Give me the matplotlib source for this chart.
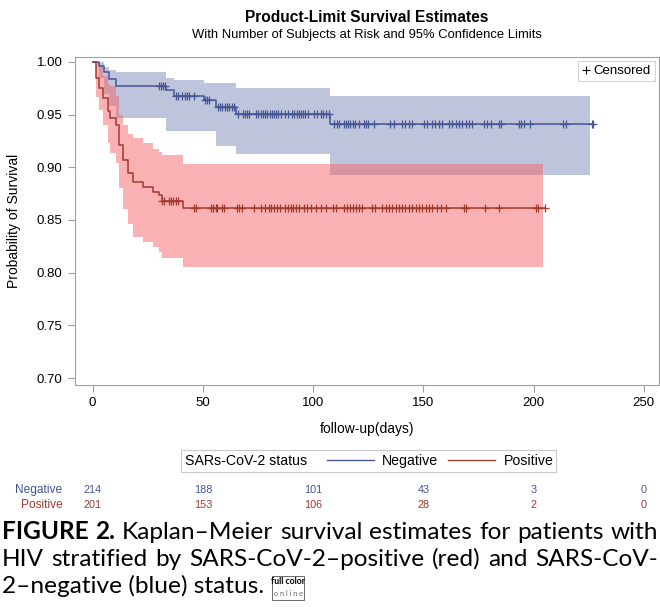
import numpy as np
import matplotlib
matplotlib.use("Agg")
from matplotlib import pyplot as plt
from matplotlib.lines import Line2D
from matplotlib.patches import Rectangle

plt.rcParams['font.family'] = ['Liberation Sans', 'DejaVu Sans']

# Kaplan-Meier steps (days, survival) and 95% limits
neg_t = [0, 2.7, 5, 7.2, 10.5, 33.1, 36.8, 50.4, 55.9, 65, 107.7]
neg_s = [1.0, 0.996, 0.990, 0.984, 0.977, 0.973, 0.968, 0.964, 0.957, 0.951, 0.941]
neg_up = [1.0, 1.0, 0.995, 0.992, 0.990, 0.985, 0.983, 0.980, 0.980, 0.975, 0.968]
neg_lo = [1.0, 0.985, 0.970, 0.958, 0.947, 0.934, 0.934, 0.934, 0.920, 0.913, 0.893]
neg_end = 227
neg_band_end = 225.5

pos_t = [0, 1.3, 2.7, 4.6, 6.8, 8.1, 10.5, 11.8, 13.7, 16, 18.2, 22.7, 27.2, 30, 31.3, 41.2]
pos_s = [1.0, 0.985, 0.975, 0.966, 0.953, 0.947, 0.940, 0.921, 0.907, 0.895, 0.886,
         0.881, 0.877, 0.874, 0.868, 0.861]
pos_up = [1.0, 1.0, 0.995, 0.987, 0.979, 0.977, 0.968, 0.950, 0.940, 0.932, 0.928,
          0.923, 0.917, 0.915, 0.912, 0.903]
pos_lo = [1.0, 0.967, 0.954, 0.940, 0.923, 0.914, 0.904, 0.880, 0.860, 0.846, 0.834,
          0.829, 0.824, 0.820, 0.814, 0.805]
pos_end = 205.4
pos_band_end = 204.2

# censored times
neg_cens = [30, 31, 32, 32.8, 37.6, 38.6, 40.6, 41.7, 42.7, 43.7, 46.2, 50.8, 51.8, 52.8,
            56.9, 57.9, 58.9, 59.9, 61, 62, 63, 64, 66, 68.1, 69.1, 70.1, 71.1, 74.2,
            75.2, 76.2, 77.2, 78.2, 79.2, 80.3, 81.3, 82.3, 83.3, 84.3, 85.3, 87.4, 88.4,
            90.4, 91.4, 92.5, 93.5, 94.5, 95.5, 96.5, 97.5, 100.6, 101.6, 103.6, 104.6,
            105.7, 107.2, 109.7, 110.7, 111.8, 113.8, 114.8, 115.8, 116.8, 117.9, 118.9,
            120.9, 122.9, 124, 125, 127.6, 135.1, 136.7, 140.5, 141.9, 143.5, 145, 150.3,
            151.8, 154, 155.5, 157.1, 158.6, 161.6, 163.1, 164.6, 166.1, 167.6, 169.2,
            170.7, 172.2, 177.5, 179, 180.5, 184.3, 185.3, 193.3, 194.5, 195.7, 198.3,
            213.5, 214.5, 226.6]
pos_cens = [31.5, 32.5, 34.5, 35.6, 36.6, 37.6, 38.6, 45.9, 46.7, 53.5, 54.8, 55.9, 56.6,
            58.8, 59.8, 65.6, 66.6, 67.9, 73.2, 76.2, 78.4, 80, 81.1, 82.3, 83.4, 84.8,
            87.1, 88.6, 89.8, 91, 92.3, 93.6, 96.1, 97.3, 98.9, 101.1, 103.6, 106, 109,
            110.2, 114, 115.5, 116.7, 118, 119.3, 120.8, 122.3, 126.8, 128.3, 131.4, 132.9,
            134.4, 135.9, 137.5, 139, 140.5, 141.9, 143.5, 145, 146.5, 148, 149.6, 151.1,
            152.5, 154, 156.4, 157.9, 160.1, 168.5, 169.2, 178.2, 184.3, 201, 202]

risk_times = [0, 50, 100, 150, 200, 250]
risk_neg = [214, 188, 101, 43, 3, 0]
risk_pos = [201, 153, 106, 28, 2, 0]

blue = '#445694'
red = '#A23A2E'

W, H = 660, 607
fig = plt.figure(figsize=(W / 100, H / 100), dpi=100)
ax = fig.add_axes([75 / W, 1 - 385 / H, 584 / W, 328 / H])


def step_xy(t, v, end):
    return list(t) + [end], list(v) + [v[-1]]


def cens_y(t, s, times):
    idx = np.searchsorted(t, times, side='right') - 1
    return np.array(s)[idx]


# bands
x, y1 = step_xy(neg_t, neg_up, neg_band_end)
_, y2 = step_xy(neg_t, neg_lo, neg_band_end)
ax.fill_between(x, y1, y2, step='post', color='#6F7EB3', alpha=0.45, lw=0)
x, y1 = step_xy(pos_t, pos_up, pos_band_end)
_, y2 = step_xy(pos_t, pos_lo, pos_band_end)
ax.fill_between(x, y1, y2, step='post', color='#F46569', alpha=0.5, lw=0)

# curves
x, y = step_xy(neg_t, neg_s, neg_end)
ax.step(x, y, where='post', color=blue, lw=1.1)
x, y = step_xy(pos_t, pos_s, pos_end)
ax.step(x, y, where='post', color=red, lw=1.1)

ax.plot(neg_cens, cens_y(neg_t, neg_s, neg_cens), ls='none', marker='+',
        ms=6, mew=0.9, color=blue)
ax.plot(neg_end, neg_s[-1], ls='none', marker='+', ms=6, mew=0.9, color=blue)
ax.plot(pos_cens, cens_y(pos_t, pos_s, pos_cens), ls='none', marker='+',
        ms=6, mew=0.9, color=red)
ax.plot(pos_end, pos_s[-1], ls='none', marker='+', ms=6, mew=0.9, color=red)

ax.set_xlim(-8.0, 256.9)
ax.set_ylim(0.6934, 1.0047)
ax.set_xticks([0, 50, 100, 150, 200, 250])
ax.set_yticks([0.70, 0.75, 0.80, 0.85, 0.90, 0.95, 1.00])
ax.yaxis.set_major_formatter(matplotlib.ticker.FormatStrFormatter('%.2f'))
for sp in ax.spines.values():
    sp.set_color('#A0A0A0')
    sp.set_linewidth(0.8)
ax.tick_params(colors='#A0A0A0', labelcolor='black', labelsize=9.5, length=5,
               width=0.8, pad=4)
ax.set_xlabel('follow-up(days)', fontsize=10, labelpad=9)
ax.set_ylabel('Probability of Survival', fontsize=10, labelpad=11)

cens_handle = Line2D([], [], ls='none', marker='+', color='black', ms=6, mew=0.8)
leg = ax.legend([cens_handle], ['Censored'], loc='upper right', fontsize=9.5,
                handlelength=0.6, handletextpad=0.3, borderpad=0.3,
                fancybox=False, edgecolor='#C8C8C8', borderaxespad=0.3)
leg.get_frame().set_linewidth(0.8)

cx = (75 + 584 / 2) / W
fig.text(cx, 1 - 18 / H, 'Product-Limit Survival Estimates', ha='center',
         va='center', fontsize=11.2, fontweight='bold')
fig.text(cx, 1 - 35 / H, 'With Number of Subjects at Risk and 95% Confidence Limits',
         ha='center', va='center', fontsize=9.4)

# group legend below x label
fig.patches.append(Rectangle((181 / W, 1 - 472 / H), 375 / W, 22 / H,
                             transform=fig.transFigure, fill=False,
                             ec='#C8C8C8', lw=0.8))
fig.text(185 / W, 1 - 461 / H, 'SARs-CoV-2 status', fontsize=10.2, va='center')
glegend = fig.legend([Line2D([], [], color=blue, lw=1), Line2D([], [], color=red, lw=1)],
                     ['Negative', 'Positive'], ncol=2, frameon=False, fontsize=10.2,
                     loc='center left', bbox_to_anchor=(327 / W, 1 - 461 / H),
                     handlelength=3.3, handletextpad=0.6, columnspacing=0.7,
                     borderpad=0, borderaxespad=0)

# numbers at risk
tr = matplotlib.transforms.blended_transform_factory(ax.transData, fig.transFigure)
fig.text(62 / W, 1 - 490 / H, 'Negative', color=blue, fontsize=8.6, ha='right',
         va='center')
fig.text(63 / W, 1 - 505 / H, 'Positive', color=red, fontsize=8.6, ha='right',
         va='center')
for t, n1, n2 in zip(risk_times, risk_neg, risk_pos):
    ax.text(t, 1 - 490 / H, str(n1), transform=tr, color=blue, fontsize=7.8,
            ha='center', va='center')
    ax.text(t, 1 - 505 / H, str(n2), transform=tr, color=red, fontsize=7.8,
            ha='center', va='center')

# caption, justified lines
cap_font = ['Lato', 'DejaVu Sans']
r = fig.canvas.get_renderer()
line1 = 'FIGURE 2. Kaplan\u2013Meier survival estimates for patients with'
probe = fig.text(0, 0, line1, family=cap_font, fontsize=10)
cap_size = 10 * 648 / probe.get_window_extent(r).width
probe.remove()


def justify(line, ybase, nbold=0, x0=2, x1=658):
    words = line.split(' ')
    texts = []
    for i, w in enumerate(words):
        texts.append(fig.text(0, 1 - ybase / H, w, family=cap_font, fontsize=cap_size,
                              fontweight='bold' if i < nbold else 'normal',
                              va='baseline'))
    widths = [t.get_window_extent(r).width for t in texts]
    gap = (x1 - x0 - sum(widths)) / (len(words) - 1)
    xx = x0
    for t, w in zip(texts, widths):
        t.set_x(xx / W)
        xx += w + gap


justify(line1, 539, nbold=2)
justify('HIV stratified by SARS-CoV-2\u2013positive (red) and SARS-CoV-', 566)
t3 = fig.text(2 / W, 1 - 593 / H, '2\u2013negative (blue) status.', family=cap_font,
              fontsize=cap_size, va='baseline')
ex = t3.get_window_extent(r)
bx = ex.x1 + 8
fig.patches.append(Rectangle((bx / W, 1 - 600 / H), 32 / W, 24 / H,
                             transform=fig.transFigure, fill=False,
                             ec='#555555', lw=0.6))
fig.text((bx + 16) / W, 1 - 582 / H, 'full color', family=cap_font, fontsize=6.3,
         ha='center', va='center', fontweight='bold')
fig.text((bx + 16) / W, 1 - 594 / H, 'o n l i n e', family=cap_font, fontsize=5.3,
         ha='center', va='center', color='#666666')

fig.savefig('out.png', dpi=100)
